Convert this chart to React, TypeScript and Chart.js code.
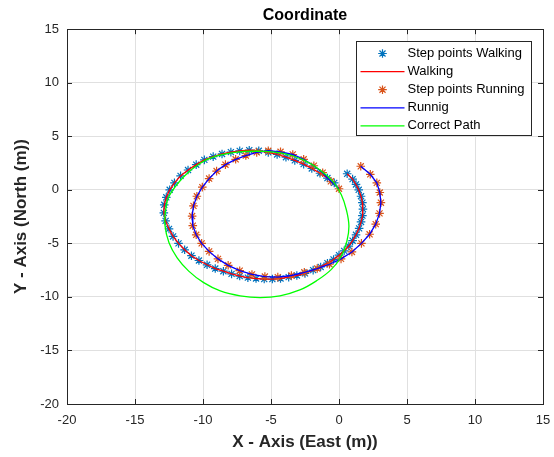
import React, { useEffect, useRef } from "react";
import { Chart, registerables } from "chart.js";

Chart.register(...registerables);

// ---- Data (metres) ----
const walkX = [0.6, 1.0, 1.25, 1.45, 1.62, 1.72, 1.76, 1.72, 1.62, 1.48, 1.25, 1.0, 0.72, 0.38, 0.0, -0.4, -0.85, -1.35, -1.9, -2.5, -3.1, -3.7, -4.3, -4.9, -5.5, -6.1, -6.7, -7.3, -7.9, -8.5, -9.1, -9.7, -10.3, -10.85, -11.35, -11.8, -12.2, -12.5, -12.75, -12.88, -12.85, -12.7, -12.45, -12.1, -11.65, -11.1, -10.5, -9.9, -9.25, -8.6, -7.95, -7.3, -6.6, -5.9, -5.2, -4.55, -3.9, -3.25, -2.6, -2.0, -1.4, -0.85, -0.35];
const walkY = [1.5, 1.0, 0.5, 0.0, -0.6, -1.2, -1.8, -2.4, -3.0, -3.6, -4.2, -4.75, -5.25, -5.7, -6.1, -6.5, -6.85, -7.2, -7.5, -7.8, -8.0, -8.15, -8.28, -8.33, -8.33, -8.28, -8.2, -8.05, -7.85, -7.6, -7.35, -7.0, -6.6, -6.15, -5.6, -5.0, -4.35, -3.65, -2.9, -2.15, -1.4, -0.7, 0.0, 0.65, 1.3, 1.85, 2.35, 2.8, 3.1, 3.35, 3.52, 3.64, 3.7, 3.65, 3.5, 3.3, 3.05, 2.75, 2.4, 2.0, 1.55, 1.1, 0.65];

const runX = [0.0, -0.6, -1.2, -1.85, -2.6, -3.4, -4.3, -5.2, -6.05, -6.85, -7.6, -8.35, -9.0, -9.55, -10.05, -10.45, -10.7, -10.8, -10.75, -10.5, -10.1, -9.55, -8.9, -8.15, -7.3, -6.4, -5.45, -4.5, -3.5, -2.55, -1.6, -0.7, 0.15, 0.95, 1.65, 2.25, 2.7, 2.98, 3.08, 3.0, 2.78, 2.3, 1.6];
const runY = [0.1, 0.8, 1.6, 2.25, 2.85, 3.3, 3.55, 3.65, 3.5, 3.2, 2.85, 2.35, 1.75, 1.05, 0.25, -0.6, -1.5, -2.45, -3.35, -4.2, -5.0, -5.75, -6.45, -7.05, -7.55, -7.9, -8.1, -8.15, -8.0, -7.7, -7.35, -6.95, -6.45, -5.8, -5.0, -4.15, -3.2, -2.2, -1.2, -0.25, 0.65, 1.45, 2.2];

const pathX = [-5.8, -4.1, -2.63, -1.4, -0.44, 0.17, 0.54, 0.73, 0.58, 0.17, -0.56, -1.66, -2.88, -4.34, -5.8, -7.27, -8.73, -9.95, -11.05, -11.9, -12.5, -12.8, -12.75, -12.5, -11.4, -10.2, -9.0, -7.5, -5.8];
const pathY = [3.62, 3.4, 2.8, 1.86, 0.77, -0.46, -1.86, -3.4, -4.8, -6.2, -7.43, -8.5, -9.35, -9.9, -10.06, -9.9, -9.44, -8.67, -7.59, -6.35, -4.95, -3.3, -1.9, -0.6, 1.24, 2.48, 3.16, 3.53, 3.62];

const axisMin = -20;
const axisMax = 15;
const tickStep = 5;

const seriesNames = ["Step points Walking", "Walking", "Step points Running", "Runnig", "Correct Path"];

const FONT = "'Liberation Sans', Arial, Helvetica, sans-serif";
const DARK = "#262626";

const toPts = (xs: number[], ys: number[]) => xs.map((x, i) => ({ x, y: ys[i] }));

const framePlugin = {
  id: "matlabFrame",
  afterDatasetsDraw(chart: any) {
    const { ctx, chartArea: ca, scales } = chart;
    ctx.save();
    ctx.strokeStyle = DARK;
    ctx.lineWidth = 1;
    ctx.beginPath();
    const tl = 5;
    for (let v = axisMin; v <= axisMax; v += tickStep) {
      const px = Math.round(scales.x.getPixelForValue(v)) + 0.5;
      ctx.moveTo(px, ca.bottom);
      ctx.lineTo(px, ca.bottom - tl);
      ctx.moveTo(px, ca.top);
      ctx.lineTo(px, ca.top + tl);
      const py = Math.round(scales.y.getPixelForValue(v)) + 0.5;
      ctx.moveTo(ca.left, py);
      ctx.lineTo(ca.left + tl, py);
      ctx.moveTo(ca.right, py);
      ctx.lineTo(ca.right - tl, py);
    }
    ctx.stroke();
    ctx.strokeRect(Math.round(ca.left) + 0.5, Math.round(ca.top) + 0.5, Math.round(ca.right - ca.left), Math.round(ca.bottom - ca.top));
    ctx.restore();
  },
};

const legendPlugin = {
  id: "matlabLegend",
  afterDraw(chart: any) {
    const { ctx, chartArea: ca } = chart;
    const w = 175;
    const h = 94;
    const x0 = Math.round(ca.right - 12 - w) + 0.5;
    const y0 = Math.round(ca.top + 12) + 0.5;
    ctx.save();
    ctx.fillStyle = "#ffffff";
    ctx.fillRect(x0, y0, w, h);
    ctx.strokeStyle = DARK;
    ctx.lineWidth = 1;
    ctx.strokeRect(x0, y0, w, h);
    ctx.font = `13px ${FONT}`;
    ctx.textBaseline = "middle";
    ctx.textAlign = "left";
    const dsList = chart.data.datasets;
    for (let i = 0; i < dsList.length; i++) {
      const ds = dsList[i];
      const cy = y0 + 12 + i * 18.1;
      if (ds.showLine === false) {
        const r = ds.pointRadius;
        const cx = x0 + 26;
        ctx.strokeStyle = ds.pointBorderColor;
        ctx.lineWidth = ds.pointBorderWidth;
        ctx.beginPath();
        ctx.moveTo(cx - r, cy);
        ctx.lineTo(cx + r, cy);
        ctx.moveTo(cx, cy - r);
        ctx.lineTo(cx, cy + r);
        const d = r * Math.SQRT1_2;
        ctx.moveTo(cx - d, cy - d);
        ctx.lineTo(cx + d, cy + d);
        ctx.moveTo(cx - d, cy + d);
        ctx.lineTo(cx + d, cy - d);
        ctx.stroke();
      } else {
        ctx.strokeStyle = ds.borderColor;
        ctx.lineWidth = ds.borderWidth;
        ctx.beginPath();
        ctx.moveTo(x0 + 4, cy);
        ctx.lineTo(x0 + 48, cy);
        ctx.stroke();
      }
      ctx.fillStyle = "#000000";
      ctx.fillText(ds.label, x0 + 51, cy);
    }
    ctx.restore();
  },
};

export default function App() {
  const ref = useRef<HTMLCanvasElement | null>(null);

  useEffect(() => {
    if (!ref.current) return;
    const chart = new Chart(ref.current, {
      type: "scatter",
      data: {
        datasets: [
          {
            label: seriesNames[0],
            data: toPts(walkX, walkY),
            showLine: false,
            pointStyle: "star",
            pointRadius: 4.3,
            pointBorderWidth: 1.2,
            pointBorderColor: "#0072BD",
            pointBackgroundColor: "#0072BD",
            borderColor: "#0072BD",
            order: 4,
          },
          {
            label: seriesNames[1],
            data: toPts(walkX, walkY),
            showLine: true,
            pointRadius: 0,
            borderColor: "#FF0000",
            borderWidth: 1.3,
            tension: 0,
            order: 3,
          },
          {
            label: seriesNames[2],
            data: toPts(runX, runY),
            showLine: false,
            pointStyle: "star",
            pointRadius: 4.3,
            pointBorderWidth: 1.2,
            pointBorderColor: "#D95319",
            pointBackgroundColor: "#D95319",
            borderColor: "#D95319",
            order: 2,
          },
          {
            label: seriesNames[3],
            data: toPts(runX, runY),
            showLine: true,
            pointRadius: 0,
            borderColor: "#0000FF",
            borderWidth: 1.3,
            tension: 0,
            order: 1,
          },
          {
            label: seriesNames[4],
            data: toPts(pathX, pathY),
            showLine: true,
            pointRadius: 0,
            borderColor: "#00FF00",
            borderWidth: 1.3,
            tension: 0.4,
            order: 0,
          },
        ],
      },
      options: {
        responsive: false,
        animation: false,
        devicePixelRatio: 1,
        layout: { padding: { left: 0, right: 11, top: 0, bottom: 0 } },
        plugins: {
          legend: { display: false },
          tooltip: { enabled: false },
          title: {
            display: true,
            text: "Coordinate",
            fullSize: false,
            color: "#000000",
            font: { family: FONT, size: 16, weight: "bold" },
            padding: { top: 6, bottom: 4 },
          },
        },
        scales: {
          x: {
            type: "linear",
            min: axisMin,
            max: axisMax,
            border: { display: false },
            grid: { color: "#e0e0e0", drawTicks: false, lineWidth: 1 },
            ticks: {
              stepSize: tickStep,
              padding: 9,
              color: DARK,
              font: { family: FONT, size: 13 },
              maxRotation: 0,
            },
            title: {
              display: true,
              text: "X - Axis (East (m))",
              color: DARK,
              font: { family: FONT, size: 17, weight: "bold" },
              padding: { top: 0, bottom: 4 },
            },
            afterFit: (s: any) => {
              s.height = 53;
              s.paddingLeft = 0;
              s.paddingRight = 0;
            },
          },
          y: {
            type: "linear",
            min: axisMin,
            max: axisMax,
            border: { display: false },
            grid: { color: "#e0e0e0", drawTicks: false, lineWidth: 1 },
            ticks: {
              stepSize: tickStep,
              padding: 8,
              color: DARK,
              font: { family: FONT, size: 13 },
            },
            title: {
              display: true,
              text: "Y - Axis (North (m))",
              color: DARK,
              font: { family: FONT, size: 17, weight: "bold" },
              padding: { top: 11, bottom: 0 },
            },
            afterFit: (s: any) => {
              s.width = 67;
              s.paddingTop = 0;
              s.paddingBottom = 0;
            },
          },
        },
      },
      plugins: [framePlugin, legendPlugin],
    } as any);
    return () => chart.destroy();
  }, []);

  return (
    <div style={{ position: "absolute", left: 0, top: 0, width: 554, height: 457, background: "#fff" }}>
      <canvas ref={ref} width={554} height={457} style={{ display: "block" }} />
    </div>
  );
}
